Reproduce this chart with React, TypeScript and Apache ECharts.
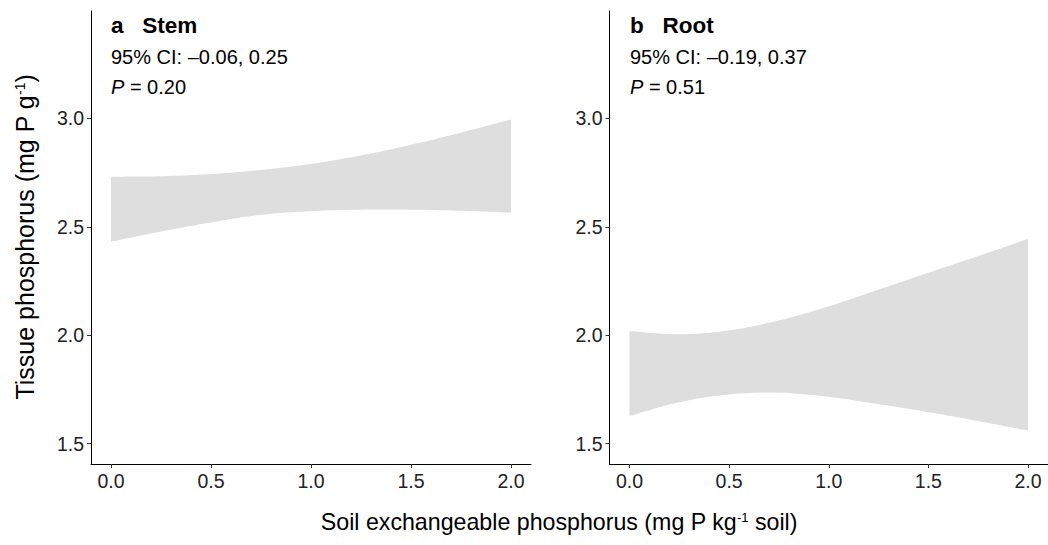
import { useEffect, useRef } from "react";
import * as echarts from "echarts";

// Soil exchangeable P positions where the band edges are given
const soilP = [0, 0.25, 0.5, 0.75, 1.0, 1.25, 1.5, 1.75, 2.0];

// Stem: 95% confidence band of tissue P (mg P g-1)
const stemUpper = [2.731, 2.733, 2.743, 2.762, 2.79, 2.829, 2.878, 2.934, 2.995];
const stemLower = [2.431, 2.478, 2.52, 2.555, 2.572, 2.579, 2.579, 2.574, 2.565];

// Root: 95% confidence band of tissue P (mg P g-1)
const rootUpper = [2.019, 2.004, 2.022, 2.068, 2.133, 2.21, 2.288, 2.365, 2.444];
const rootLower = [1.627, 1.691, 1.727, 1.735, 1.716, 1.682, 1.645, 1.604, 1.56];

const xTickValues = [0, 0.5, 1.0, 1.5, 2.0];
const yTickValues = [1.5, 2.0, 2.5, 3.0];

const panelTitles = ["Stem", "Root"];
const panelLetters = ["a", "b"];
const ciTexts = ["95% CI: \u20130.06, 0.25", "95% CI: \u20130.19, 0.37"];
const pTexts = ["0.20", "0.51"];

const FONT = '"Liberation Sans", Arial, Helvetica, sans-serif';
const BAND = "#dedede";

// Catmull-Rom sampling in pixel space for a smooth band outline
function smoothPoints(pts: number[][], steps = 16): number[][] {
  const out: number[][] = [];
  const n = pts.length;
  for (let i = 0; i < n - 1; i++) {
    const p0 = pts[Math.max(i - 1, 0)];
    const p1 = pts[i];
    const p2 = pts[i + 1];
    const p3 = pts[Math.min(i + 2, n - 1)];
    for (let s = 0; s < steps; s++) {
      const t = s / steps;
      const t2 = t * t;
      const t3 = t2 * t;
      const f = (a: number, b: number, c: number, d: number) =>
        0.5 * (2 * b + (-a + c) * t + (2 * a - 5 * b + 4 * c - d) * t2 + (-a + 3 * b - 3 * c + d) * t3);
      out.push([f(p0[0], p1[0], p2[0], p3[0]), f(p0[1], p1[1], p2[1], p3[1])]);
    }
  }
  out.push(pts[n - 1]);
  return out;
}

function bandSeries(idx: number, upper: number[], lower: number[]) {
  return {
    type: "custom",
    xAxisIndex: idx,
    yAxisIndex: idx,
    silent: true,
    encode: { x: 0, y: [1, 2] },
    data: soilP.map((x, i) => [x, lower[i], upper[i]]),
    renderItem: (params: any, api: any) => {
      if (params.dataIndex !== 0) return null;
      const up = soilP.map((x, i) => api.coord([x, upper[i]]));
      const lo = soilP.map((x, i) => api.coord([x, lower[i]]));
      const pts = smoothPoints(up).concat(smoothPoints(lo).reverse());
      return {
        type: "polygon",
        shape: { points: pts },
        style: { fill: BAND, stroke: null },
      };
    },
  };
}

const axisFont = { fontFamily: FONT, fontSize: 19.5, color: "#222" };

function makeXAxis(idx: number) {
  return {
    type: "value",
    gridIndex: idx,
    min: -0.1,
    max: 2.1,
    splitLine: { show: false },
    axisLine: { show: true, onZero: false, lineStyle: { color: "#000", width: 1 } },
    axisTick: { show: true, length: 4, customValues: xTickValues, lineStyle: { color: "#333" } },
    axisLabel: {
      ...axisFont,
      margin: 7,
      customValues: xTickValues,
      formatter: (v: number) => v.toFixed(1),
    },
  };
}

function makeYAxis(idx: number) {
  return {
    type: "value",
    gridIndex: idx,
    min: 1.406,
    max: 3.495,
    splitLine: { show: false },
    axisLine: { show: true, onZero: false, lineStyle: { color: "#000", width: 1 } },
    axisTick: { show: true, length: 4, customValues: yTickValues, lineStyle: { color: "#333" } },
    axisLabel: {
      ...axisFont,
      margin: 7,
      customValues: yTickValues,
      formatter: (v: number) => v.toFixed(1),
    },
  };
}

function panelText(left: number, i: number) {
  return [
    {
      type: "text",
      x: left,
      y: 25,
      style: {
        text: `${panelLetters[i]}   ${panelTitles[i]}`,
        fontFamily: FONT,
        fontSize: 22.5,
        fontWeight: "bold",
        fill: "#000",
        verticalAlign: "middle",
        align: "left",
      },
    },
    {
      type: "text",
      x: left,
      y: 57,
      style: {
        text: ciTexts[i],
        fontFamily: FONT,
        fontSize: 20,
        fill: "#000",
        verticalAlign: "middle",
        align: "left",
      },
    },
    {
      type: "text",
      x: left,
      y: 87,
      style: {
        text: `{it|P} = ${pTexts[i]}`,
        fontFamily: FONT,
        fontSize: 20,
        fill: "#000",
        verticalAlign: "middle",
        align: "left",
        rich: {
          it: { fontFamily: FONT, fontSize: 20, fontStyle: "italic", fill: "#000" },
        },
      },
    },
  ];
}

export default function App() {
  const ref = useRef<HTMLDivElement>(null);

  useEffect(() => {
    if (!ref.current) return;
    const chart = echarts.init(ref.current, null, { renderer: "svg" });
    chart.setOption({
      animation: false,
      backgroundColor: "#fff",
      grid: [
        { left: 91, top: 11, width: 440, height: 453, containLabel: false },
        { left: 609.5, top: 11, width: 440, height: 453, containLabel: false },
      ],
      xAxis: [makeXAxis(0), makeXAxis(1)],
      yAxis: [makeYAxis(0), makeYAxis(1)],
      series: [bandSeries(0, stemUpper, stemLower), bandSeries(1, rootUpper, rootLower)],
      graphic: [
        ...panelText(111, 0),
        ...panelText(630, 1),
        {
          type: "text",
          x: 25,
          y: 237,
          rotation: Math.PI / 2,
          style: {
            text: "Tissue phosphorus (mg P g{sup|-1})",
            fontFamily: FONT,
            fontSize: 25,
            fill: "#000",
            align: "center",
            verticalAlign: "middle",
            rich: {
              sup: { fontFamily: FONT, fontSize: 14, fill: "#000", verticalAlign: "top", lineHeight: 25 },
            },
          },
        },
        {
          type: "text",
          x: 559,
          y: 522,
          style: {
            text: "Soil exchangeable phosphorus (mg P kg{sup|-1} soil)",
            fontFamily: FONT,
            fontSize: 23.2,
            fill: "#000",
            align: "center",
            verticalAlign: "middle",
            rich: {
              sup: { fontFamily: FONT, fontSize: 13, fill: "#000", verticalAlign: "top", lineHeight: 23 },
            },
          },
        },
      ],
    });
    return () => chart.dispose();
  }, []);

  return (
    <div
      ref={ref}
      style={{ position: "fixed", left: 0, top: 0, width: 1048, height: 545, background: "#fff" }}
    />
  );
}
